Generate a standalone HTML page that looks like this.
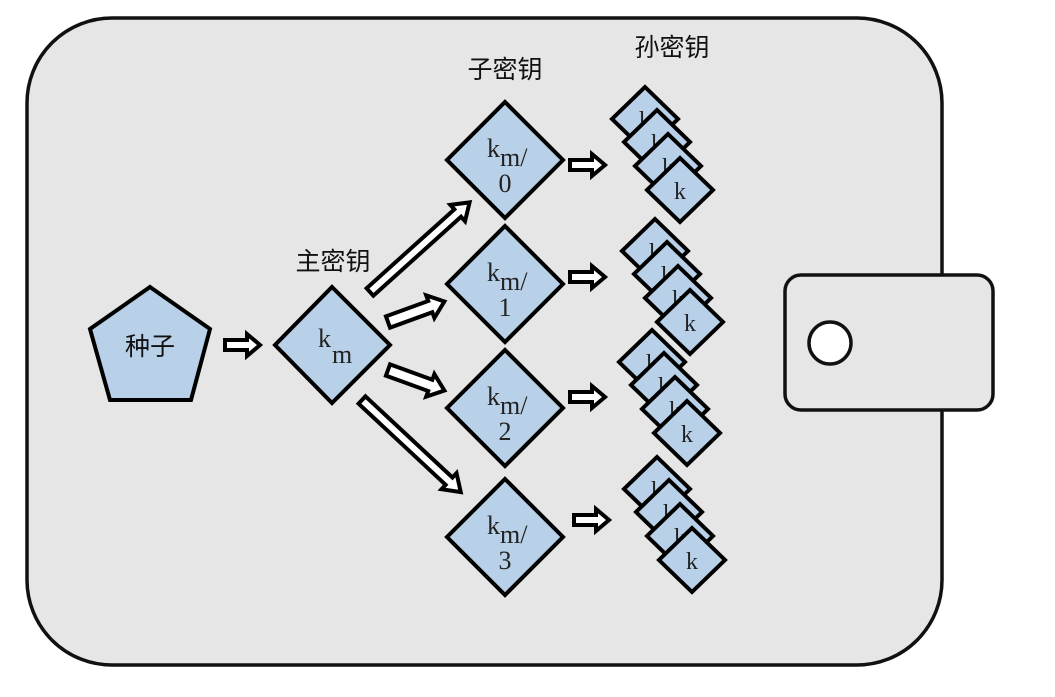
<!DOCTYPE html>
<html><head><meta charset="utf-8"><style>
html,body{margin:0;padding:0;background:#fff;}
svg{display:block}
.cj{font-family:"Liberation Sans","Noto Sans CJK SC",sans-serif;font-size:25px;fill:#111}
.sf{font-family:"Liberation Serif",serif;fill:#222}
</style></head><body>
<svg width="1055" height="697" viewBox="0 0 1055 697" xmlns="http://www.w3.org/2000/svg">
<defs>
<polygon id="sa" points="0,-5 22,-5 22,-11 35,0 22,11 22,5 0,5" fill="#fff" stroke="#000" stroke-width="4" stroke-linejoin="miter"/>
<g id="sd">
<polygon points="0,-32 33,0 0,32 -33,0" fill="#b8d0e8" stroke="#000" stroke-width="4"/>
<text x="0" y="9" text-anchor="middle" font-family="Liberation Serif, serif" font-size="24" fill="#222">k</text>
</g>
<g id="st0">
<use href="#sd" transform="translate(645,119)"/>
<use href="#sd" transform="translate(657,142)"/>
<use href="#sd" transform="translate(668,166)"/>
<use href="#sd" transform="translate(680,190)"/>
</g>
</defs>
<rect x="27" y="18" width="915" height="647" rx="85" fill="#e6e6e6" stroke="#111" stroke-width="3.5"/>
<rect x="785" y="275" width="208" height="135" rx="16" fill="#e6e6e6" stroke="#111" stroke-width="3.5"/>
<circle cx="830" cy="343" r="21" fill="#fff" stroke="#111" stroke-width="3.5"/>

<polygon points="150,287 210,329 191,400 110,400 90,329" fill="#b8d0e8" stroke="#000" stroke-width="4"/>
<text x="150" y="355" text-anchor="middle" class="cj">种子</text>

<use href="#sa" transform="translate(225,345)"/>

<polygon points="332,287 390,345 332,403 275,345" fill="#b8d0e8" stroke="#000" stroke-width="4"/>
<text x="318" y="347" class="sf" font-size="26">k</text><text x="332" y="363" class="sf" font-size="26">m</text>
<text x="333" y="270" text-anchor="middle" class="cj">主密钥</text>

<g fill="#fff" stroke="#000" stroke-width="4">
<g transform="translate(370,292) rotate(-42)"><polygon points="0,-5 118,-5 118,-11 134,0 118,11 118,5 0,5"/></g>
<g transform="translate(388,322) rotate(-20)"><polygon points="0,-6 45,-6 45,-12 60,0 45,12 45,6 0,6"/></g>
<g transform="translate(388,370) rotate(20)"><polygon points="0,-6 45,-6 45,-12 60,0 45,12 45,6 0,6"/></g>
<g transform="translate(362,400) rotate(43)"><polygon points="0,-5 119,-5 119,-11 135,0 119,11 119,5 0,5"/></g>
</g>

<text x="505" y="78" text-anchor="middle" class="cj">子密钥</text>
<text x="672" y="56" text-anchor="middle" class="cj">孙密钥</text>

<polygon points="505,102 563,160 505,218 447,160" fill="#b8d0e8" stroke="#000" stroke-width="4"/>
<text x="487" y="157" class="sf" font-size="26">k</text><text x="500" y="166" class="sf" font-size="26">m/</text>
<text x="505" y="192" text-anchor="middle" class="sf" font-size="26">0</text>
<polygon points="505,226 563,284 505,342 447,284" fill="#b8d0e8" stroke="#000" stroke-width="4"/>
<text x="487" y="281" class="sf" font-size="26">k</text><text x="500" y="290" class="sf" font-size="26">m/</text>
<text x="505" y="316" text-anchor="middle" class="sf" font-size="26">1</text>
<polygon points="505,350 563,408 505,466 447,408" fill="#b8d0e8" stroke="#000" stroke-width="4"/>
<text x="487" y="405" class="sf" font-size="26">k</text><text x="500" y="414" class="sf" font-size="26">m/</text>
<text x="505" y="440" text-anchor="middle" class="sf" font-size="26">2</text>
<polygon points="505,479 563,537 505,595 447,537" fill="#b8d0e8" stroke="#000" stroke-width="4"/>
<text x="487" y="534" class="sf" font-size="26">k</text><text x="500" y="543" class="sf" font-size="26">m/</text>
<text x="505" y="569" text-anchor="middle" class="sf" font-size="26">3</text>

<use href="#sa" transform="translate(570,165)"/>
<use href="#sa" transform="translate(570,277)"/>
<use href="#sa" transform="translate(570,397)"/>
<use href="#sa" transform="translate(574,520)"/>

<use href="#st0"/>
<use href="#st0" transform="translate(10,132)"/>
<use href="#st0" transform="translate(7,243)"/>
<use href="#st0" transform="translate(12,370)"/>
</svg>
</body></html>
